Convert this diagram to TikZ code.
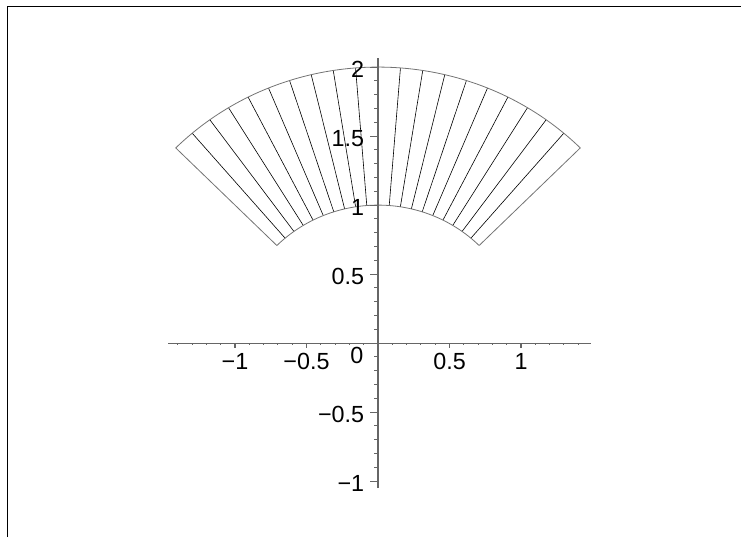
\documentclass[tikz,border=0pt]{standalone}
\usepackage{fontspec}
\setmainfont{Liberation Sans}
\usepackage{tikz}

\begin{document}
\begin{tikzpicture}[x=107.25pt, y=103.5pt,
frameline/.style={line width=1.2pt, black},
axisline/.style={line width=0.8pt, black!60},
edgeline/.style={line width=0.6pt, black!55},
spoke/.style={line width=0.45pt, black},
ticklabel/.style={inner sep=0pt, font=\fontsize{17.5pt}{20pt}\selectfont}
]
\useasboundingbox (-2.643,-1.406) rectangle (2.538,2.486);
\draw[frameline] (-2.591,-1.406) -- (-2.591,2.438) -- (2.538,2.438);
\foreach \a in {1,...,9,11,12,...,19}
  \draw[spoke] ({45+4.5*\a}:1) -- ({45+4.5*\a}:2);
\draw[edgeline] (45:1) -- (45:2) arc[start angle=45, end angle=135, radius=2]
  -- (135:1) arc[start angle=135, end angle=45, radius=1];
\draw[axisline] (-1.467,0) -- (1.49,0);
\draw[axisline] (0,-1.05) -- (0,2.065);
\foreach \t in {-14,...,14}
  \draw[axisline] (\t/10,0) -- ++(0,-1.6pt);
\foreach \t in {-1,-0.5,0.5,1}
  \draw[axisline] (\t,0) -- ++(0,-3.8pt);
\foreach \t in {-10,...,20}
  \draw[axisline] (0,\t/10) -- ++(-3pt,0);
\foreach \t in {-1,-0.5,0.5,1,1.5,2}
  \draw[axisline] (0,\t) -- ++(-6pt,0);
\node[ticklabel, anchor=north] (xlabm1) at (-1,-0.072) {−1};
\node[ticklabel, anchor=north] (xlabm05) at (-0.5,-0.072) {−0.5};
\node[ticklabel, anchor=north] (xlab05) at (0.5,-0.072) {0.5};
\node[ticklabel, anchor=north] (xlab1) at (1,-0.072) {1};
\node[ticklabel, anchor=north] (zero) at (-0.147,-0.027) {0};
\node[ticklabel, anchor=east] (ylabm1) at (-0.095,-1.015) {−1};
\node[ticklabel, anchor=east] (ylabm05) at (-0.095,-0.515) {−0.5};
\node[ticklabel, anchor=east] (ylab05) at (-0.095,0.485) {0.5};
\node[ticklabel, anchor=east] (ylab1) at (-0.095,0.985) {1};
\node[ticklabel, anchor=east] (ylab15) at (-0.095,1.485) {1.5};
\node[ticklabel, anchor=east] (ylab2) at (-0.095,1.985) {2};
\end{tikzpicture}
\end{document}
